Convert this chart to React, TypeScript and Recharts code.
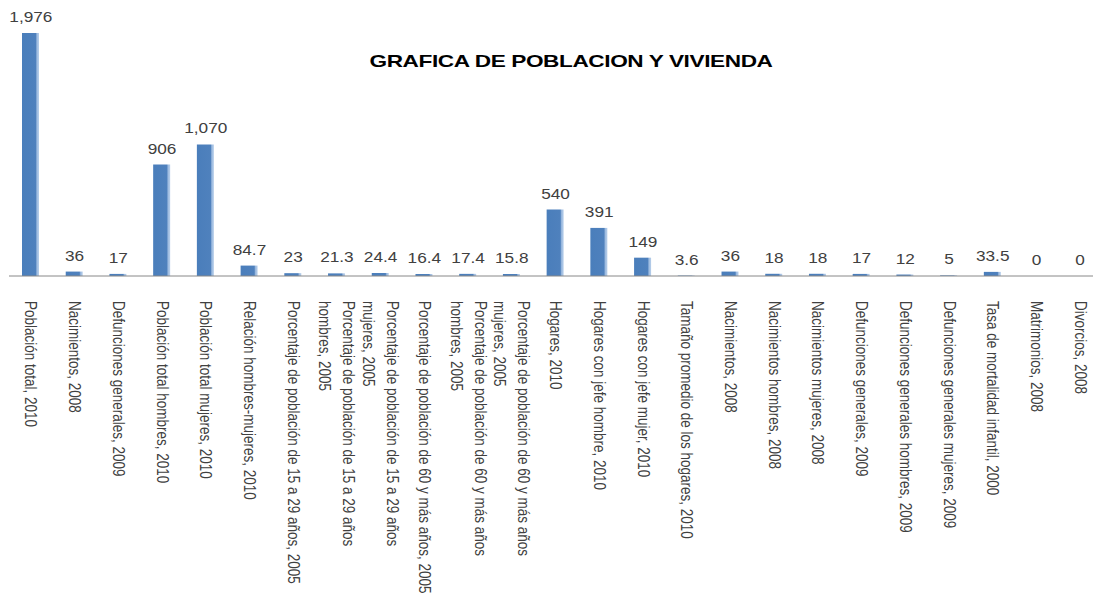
import { ComposedChart, Bar, Line, XAxis, YAxis, LabelList } from "recharts";

const categories = [
  "Población total, 2010",
  "Nacimientos, 2008",
  "Defunciones generales, 2009",
  "Población total hombres, 2010",
  "Población total mujeres, 2010",
  "Relación hombres-mujeres, 2010",
  "Porcentaje de población de 15 a 29 años, 2005",
  "Porcentaje de población de 15 a 29 años hombres, 2005",
  "Porcentaje de población de 15 a 29 años mujeres, 2005",
  "Porcentaje de población de 60 y más años, 2005",
  "Porcentaje de población de 60 y más años hombres, 2005",
  "Porcentaje de población de 60 y más años mujeres, 2005",
  "Hogares, 2010",
  "Hogares con jefe hombre, 2010",
  "Hogares con jefe mujer, 2010",
  "Tamaño promedio de los hogares, 2010",
  "Nacimientos, 2008",
  "Nacimientos hombres, 2008",
  "Nacimientos mujeres, 2008",
  "Defunciones generales, 2009",
  "Defunciones generales hombres, 2009",
  "Defunciones generales mujeres, 2009",
  "Tasa de mortalidad infantil, 2000",
  "Matrimonios, 2008",
  "Divorcios, 2008",
];

const values = [
  1976, 36, 17, 906, 1070, 84.7, 23, 21.3, 24.4, 16.4, 17.4, 15.8, 540, 391,
  149, 3.6, 36, 18, 18, 17, 12, 5, 33.5, 0, 0,
];

const title = "GRAFICA DE POBLACION Y VIVIENDA";

const data = categories.map((name, i) => ({ key: `${i}`, name, value: values[i] }));

const FONT = "'Liberation Sans', Arial, sans-serif";
const TICK_SIZE = 13.5;
const TICK_STRETCH = 1.2;
const MAX_CHARS = 47;

// split long category names into lines, Excel-style
function wrap(text: string) {
  const words = text.split(" ");
  const lines: string[] = [];
  let cur = "";
  words.forEach((w) => {
    const next = cur ? cur + " " + w : w;
    if (cur && next.length > MAX_CHARS) {
      lines.push(cur);
      cur = w;
    } else cur = next;
  });
  if (cur) lines.push(cur);
  return lines;
}

const CategoryTick = (props: any) => {
  const { x, y, payload } = props;
  const lines = wrap(categories[Number(payload.value)]);
  const lh = 20;
  return (
    <g transform={`translate(${x},${y + 25})`}>
      <text
        transform={`rotate(90) scale(1,${TICK_STRETCH})`}
        fontFamily={FONT}
        fontSize={TICK_SIZE}
        fill="#404040"
        dominantBaseline="central"
      >
        {lines.map((ln, i) => (
          <tspan key={i} x={0} y={(i - (lines.length - 1) / 2) * lh}>
            {ln}
          </tspan>
        ))}
      </text>
    </g>
  );
};

const ValueLabel = (props: any) => {
  const { x, y, width, value } = props;
  const txt = Number(value).toLocaleString("en-US", { maximumFractionDigits: 1 });
  return (
    <text
      transform={`translate(${x + (width || 0) / 2},${y - 11}) scale(1.23,1)`}
      textAnchor="middle"
      fontFamily={FONT}
      fontSize={14}
      fill="#404040"
    >
      {txt}
    </text>
  );
};

export default function App() {
  return (
    <div
      style={{
        position: "absolute",
        left: 0,
        top: 0,
        width: 1093,
        height: 606,
        overflow: "hidden",
        background: "#fff",
      }}
    >
      <ComposedChart
        width={1110}
        height={606}
        data={data}
        margin={{ top: 30, right: 8, left: 9, bottom: 0 }}
      >
        <defs>
          <linearGradient id="barFill" x1="0" y1="0" x2="1" y2="0">
            <stop offset="0%" stopColor="#4A7EBB" />
            <stop offset="80%" stopColor="#4F81BD" />
            <stop offset="88%" stopColor="#9DBBE0" />
            <stop offset="100%" stopColor="#B8CFEA" />
          </linearGradient>
        </defs>
        <XAxis
          dataKey="key"
          interval={0}
          height={330}
          tickLine={false}
          tickSize={0}
          tickMargin={0}
          axisLine={{ stroke: "#888888" }}
          tick={<CategoryTick />}
        />
        <YAxis hide domain={[0, 2000]} />
        <Bar dataKey="value" fill="url(#barFill)" barSize={17} isAnimationActive={false} />
        {/* invisible line carries the data labels so zero values get one too */}
        <Line
          dataKey="value"
          stroke="none"
          dot={false}
          activeDot={false}
          legendType="none"
          isAnimationActive={false}
        >
          <LabelList dataKey="value" content={<ValueLabel />} />
        </Line>
      </ComposedChart>
      <div
        style={{
          position: "absolute",
          left: 0,
          width: 1142,
          top: 52,
          textAlign: "center",
          fontFamily: FONT,
          fontWeight: 900,
          fontSize: 17,
          color: "#000",
          transform: "scaleX(1.33)",
          transformOrigin: "571px 0",
          letterSpacing: -0.3,
          whiteSpace: "nowrap",
        }}
      >
        {title}
      </div>
    </div>
  );
}
